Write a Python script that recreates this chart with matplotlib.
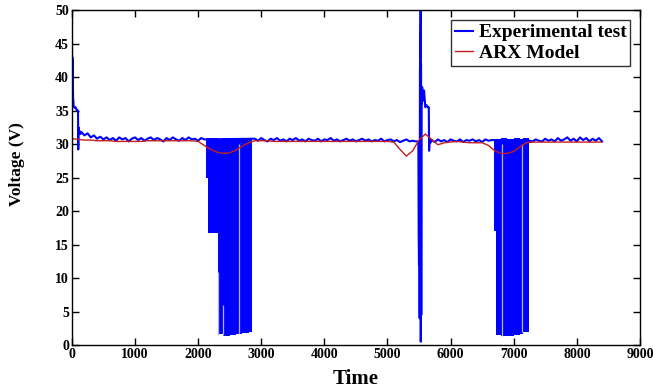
import matplotlib.pyplot as plt
import numpy as np

plt.rcParams["font.family"] = ["Liberation Serif", "DejaVu Serif"]
plt.rcParams["font.weight"] = "bold"

# --- Experimental test (blue) -------------------------------------------
# start-up transient
start_t = [0, 2, 4, 8, 14, 20, 30, 45, 60, 80, 98, 102, 106, 110, 120, 135]
start_v = [0.0, 50.0, 36.0, 43.0, 41.5, 37.0, 35.6, 35.4, 35.5, 35.0, 35.0, 29.2, 32.5, 31.6, 32.0, 31.5]

# noisy steady-state stretches (sampled every 50 s)
segA_t0, segA_t1 = 150, 2100
segA_v = [31.8, 31.3, 31.6, 31.0, 31.3, 30.8, 31.1, 30.7, 31.0, 30.6,
          30.9, 30.5, 31.0, 30.7, 30.9, 30.4, 30.8, 31.0, 30.6, 30.9,
          30.5, 30.8, 31.0, 30.6, 30.9, 30.7, 30.4, 30.9, 30.6, 31.0,
          30.7, 30.5, 30.9, 30.6, 31.0, 30.7, 30.8, 30.5, 30.9, 30.7]
segB_t0, segB_t1 = 2900, 5450
segB_v = [30.8, 30.5, 30.9, 30.6, 30.4, 30.8, 30.6, 30.9, 30.5, 30.7,
          30.4, 30.8, 30.6, 30.9, 30.5, 30.7, 30.4, 30.8, 30.6, 30.5,
          30.8, 30.4, 30.7, 30.6, 30.9, 30.5, 30.7, 30.4, 30.6, 30.8,
          30.5, 30.7, 30.4, 30.6, 30.8, 30.5, 30.7, 30.4, 30.6, 30.5,
          30.8, 30.4, 30.6, 30.7, 30.4, 30.6, 30.3, 30.5, 30.7, 30.4,
          30.5, 30.4]
# second transient around t = 5500
spike_t = [5470, 5490, 5495, 5500, 5505, 5510, 5515, 5520, 5526, 5528, 5532, 5536,
           5540, 5545, 5550, 5560, 5570, 5580, 5600, 5620, 5640, 5655, 5660, 5665, 5670, 5680]
spike_v = [30.4, 30.3, 16.5, 12.0, 30.0, 4.0, 41.0, 43.0, 50.0, 0.5, 42.0, 4.5,
           38.0, 36.0, 38.5, 37.0, 36.5, 38.0, 35.5, 35.8, 35.5, 35.5, 29.0, 30.0, 30.8, 30.2]
segC_t0, segC_t1 = 5700, 6650
segC_v = [30.6, 30.3, 30.7, 30.4, 30.6, 30.3, 30.7, 30.5, 30.4, 30.7,
          30.3, 30.6, 30.5, 30.7, 30.4, 30.6, 30.3, 30.7, 30.5, 30.6]
segD_t0, segD_t1 = 7250, 8400
segD_v = [30.5, 30.4, 30.7, 30.5, 30.4, 30.8, 30.5, 30.7, 30.4, 30.9,
          30.5, 30.7, 31.0, 30.5, 30.8, 30.4, 31.0, 30.6, 30.9, 30.4,
          30.8, 30.5, 30.9, 30.4]

# fast switching bursts: envelope of the oscillation
burst1_t = [2130, 2160, 2310, 2400, 2500, 2600, 2700, 2800, 2860]
burst1_low = [25.0, 16.8, 1.6, 1.4, 1.5, 1.6, 1.8, 2.0, 2.0]
burst1_high = [30.9, 30.9, 30.8, 30.9, 30.8, 30.9, 30.8, 30.9, 30.8]
burst3_t = [6690, 6720, 6800, 6900, 7000, 7100, 7150, 7240]
burst3_low = [17.0, 1.5, 1.4, 1.3, 1.5, 1.7, 2.0, 2.0]
burst3_high = [30.8, 30.8, 30.9, 30.8, 30.9, 30.8, 30.9, 30.8]
# narrow gaps inside the bursts
gap_t = [2315, 2390, 2650, 6810, 7130]
gap_top = [10.9, 6.0, 30.0, 30.0, 30.0]
gap_bot = [1.5, 1.5, 1.7, 1.4, 2.0]

# --- ARX model (red) -----------------------------------------------------
arx_t = np.arange(0, 8401, 100)
arx_v = [30.8, 30.7, 30.6, 30.6, 30.5, 30.5, 30.5, 30.4, 30.4, 30.4,
         30.4, 30.4, 30.5, 30.5, 30.5, 30.5, 30.5, 30.5, 30.5, 30.5,
         30.4, 29.8, 29.2, 28.8, 28.6, 28.7, 29.1, 29.7, 30.2, 30.5,
         30.5, 30.5, 30.4, 30.4, 30.4, 30.4, 30.4, 30.4, 30.4, 30.4,
         30.4, 30.4, 30.4, 30.4, 30.4, 30.4, 30.4, 30.4, 30.4, 30.4,
         30.4, 30.3, 29.2, 28.2, 29.0, 30.6, 31.5, 30.7, 29.9, 30.2,
         30.3, 30.4, 30.3, 30.2, 30.2, 30.2, 29.8, 29.0, 28.6, 28.6,
         28.9, 29.6, 30.2, 30.3, 30.3, 30.3, 30.3, 30.3, 30.3, 30.3,
         30.3, 30.3, 30.3, 30.3, 30.3]

x_ticks = np.arange(0, 9001, 1000)
y_ticks = np.arange(0, 51, 5)

exp_t = np.concatenate([start_t,
                        np.arange(segA_t0, segA_t1 + 1, 50),
                        np.arange(segB_t0, segB_t1 + 1, 50),
                        spike_t,
                        np.arange(segC_t0, segC_t1 + 1, 50),
                        np.arange(segD_t0, segD_t1 + 1, 50)])
exp_v = np.concatenate([start_v, segA_v, segB_v, spike_v, segC_v, segD_v])

fig = plt.figure(figsize=(6.53, 3.89), dpi=100)
ax = fig.add_axes([0.110, 0.113, 0.870, 0.861])

blue = "#0000ff"
ax.fill_between(burst1_t, burst1_low, burst1_high, step="post", color=blue, lw=0)
ax.fill_between(burst3_t, burst3_low, burst3_high, step="post", color=blue, lw=0)
ax.plot(exp_t, exp_v, color=blue, lw=1.5, label="Experimental test")
ax.vlines(gap_t, gap_bot, gap_top, color="#b4b4d8", lw=0.9)
ax.plot(arx_t, arx_v, color="#c41e1e", lw=1.0, label="ARX Model")

ax.set_xlim(0, 9000)
ax.set_ylim(0, 50)
ax.set_xticks(x_ticks)
ax.set_yticks(y_ticks)
ax.tick_params(direction="in", top=True, right=True, length=5, width=1,
               labelsize=10, pad=2)
for s in ax.spines.values():
    s.set_linewidth(1.0)
ax.set_xlabel("Time", fontsize=15, fontweight="bold", labelpad=6)
ax.set_ylabel("Voltage (V)", fontsize=12.5, fontweight="bold")
ax.yaxis.set_label_coords(-0.083, 0.54)

leg = ax.legend(loc="upper right", fontsize=14, frameon=True, fancybox=False,
                edgecolor="black", handlelength=0.9, handletextpad=0.3,
                borderpad=0.2, labelspacing=0.15, borderaxespad=0.5)
leg.get_frame().set_linewidth(1.0)
for txt in leg.get_texts():
    txt.set_fontweight("bold")

fig.savefig("out.png", dpi=100)
